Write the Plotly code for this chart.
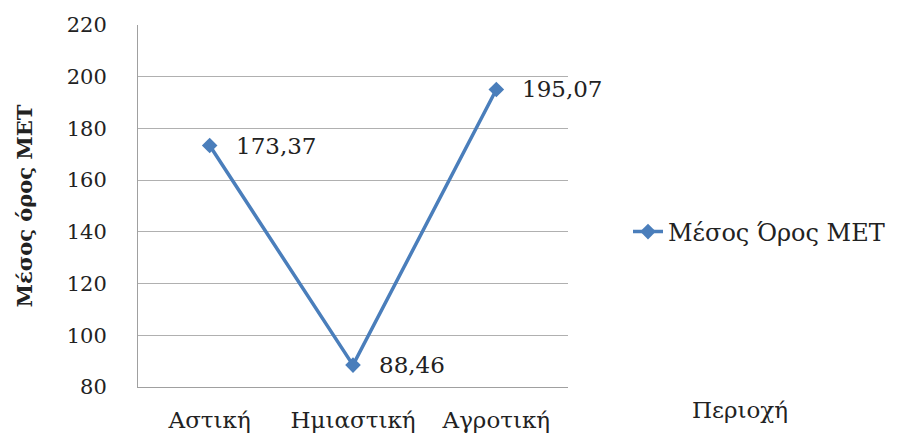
import plotly.graph_objects as go

categories = ["Αστική", "Ημιαστική", "Αγροτική"]
values = [173.37, 88.46, 195.07]
labels = ["173,37", "88,46", "195,07"]
series_name = "Μέσος Όρος ΜΕΤ"
y_ticks = [80, 100, 120, 140, 160, 180, 200, 220]

BLUE = "#4a7ebb"
FONT = "DejaVu Serif"
TXT = "#222222"

fig = go.Figure()
fig.add_trace(go.Scatter(
    x=categories, y=values, mode="lines+markers", name=series_name,
    line=dict(color=BLUE, width=3.5),
    marker=dict(symbol="diamond", size=12, color=BLUE),
))

for c, v, t in zip(categories, values, labels):
    fig.add_annotation(x=c, y=v, text=t, showarrow=False, xanchor="left",
                       yanchor="middle", xshift=24,
                       font=dict(family=FONT, size=23, color=TXT))

fig.add_annotation(text="Περιοχή", xref="paper", yref="paper",
                   x=(690 - 138) / 430, y=(387 - 410) / 362,
                   xanchor="left", yanchor="middle", showarrow=False,
                   font=dict(family=FONT, size=23, color=TXT))

fig.update_layout(
    width=898, height=426,
    margin=dict(l=130, r=338, t=17, b=47, autoexpand=False),
    paper_bgcolor="white", plot_bgcolor="white",
    font=dict(family=FONT, color=TXT),
    showlegend=True,
    legend=dict(x=(628 - 138) / 430, y=(387 - 232) / 362, xanchor="left",
                yanchor="middle", font=dict(family=FONT, size=24, color=TXT),
                bgcolor="rgba(0,0,0,0)"),
    xaxis=dict(type="category", range=[-0.5, 2.5], showgrid=False,
               showline=True, linecolor="#a0a0a0", linewidth=1,
               ticks="", automargin=False,
               tickfont=dict(family=FONT, size=23, color=TXT),
               ticklabelstandoff=12),
    yaxis=dict(range=[80, 220], tickvals=y_ticks, showgrid=True,
               gridcolor="#b0b0b0", gridwidth=1, showline=True,
               linecolor="#a0a0a0", linewidth=1, ticks="",
               zeroline=False, automargin=False,
               tickfont=dict(family=FONT, size=21, color=TXT),
               ticklabelstandoff=26,
               title=dict(text="<b>Μέσος όρος ΜΕΤ</b>", standoff=28,
                          font=dict(family=FONT, size=21, color=TXT))),
)

fig.write_html("out.html")
